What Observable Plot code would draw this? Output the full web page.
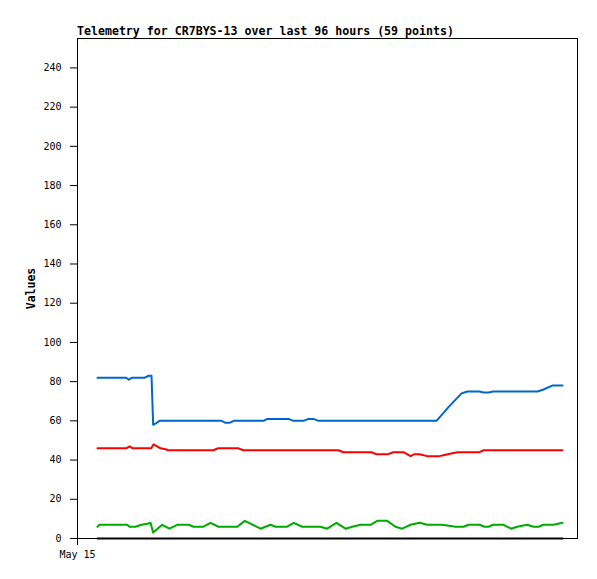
<!DOCTYPE html>
<html><head><meta charset="utf-8">
<script src="https://cdn.jsdelivr.net/npm/d3@7"></script>
<script src="https://cdn.jsdelivr.net/npm/@observablehq/plot@0.6"></script>
<style>
body{margin:0;background:#fff;}
#title{height:37px;position:relative;font:bold 11.6px "DejaVu Sans Mono",monospace;color:#000;}
#title span{position:absolute;left:77px;top:25px;line-height:12px;white-space:nowrap;}
#chart svg{display:block;}
</style></head><body>
<div id="title"><span>Telemetry for CR7BYS-13 over last 96 hours (59 points)</span></div>
<div id="chart"></div>
<script>
// hours after May 15 00:00 (UTC) and values
const blueHours = [3.84, 9.35, 9.85, 10.5, 12.92, 13.69, 14.21, 14.53, 15.2, 15.74, 27.65, 28.42, 29.18, 30.01, 35.71, 36.42, 40.51, 41.47, 43.39, 44.35, 45.31, 46.27, 68.93, 71.23, 73.73, 74.88, 77.18, 77.95, 78.91, 79.81, 88.32, 89.47, 91.14, 93.12];
const blueValues = [82, 82, 81, 82, 82, 83, 83, 58, 59, 60, 60, 59, 59, 60, 60, 61, 61, 60, 60, 61, 61, 60, 60, 67, 74, 75, 75, 74.5, 74.5, 75, 75, 76, 78, 78];

const redHours = [3.84, 9.35, 9.98, 10.62, 14.15, 14.59, 15.3, 15.94, 16.9, 17.41, 26.05, 27.01, 30.91, 31.81, 50.11, 51.01, 56.45, 57.35, 59.65, 60.61, 62.59, 63.94, 64.7, 65.66, 67.14, 69.5, 70.66, 72.0, 72.96, 77.18, 77.95, 93.12];
const redValues = [46, 46, 47, 46, 46, 48, 47, 46, 45.5, 45, 45, 46, 46, 45, 45, 44, 44, 43, 43, 44, 44, 42, 43, 43, 42, 42, 42.7, 43.5, 44, 44, 45, 45];

const greenHours = [3.84, 4.22, 9.54, 9.98, 11.14, 12.29, 13.44, 14.02, 14.53, 16.26, 17.66, 19.14, 21.37, 22.27, 24.19, 25.54, 27.07, 30.66, 32.12, 35.14, 37.06, 38.02, 40.26, 41.53, 43.14, 46.66, 47.94, 49.73, 51.46, 52.74, 54.34, 56.26, 57.54, 59.46, 61.06, 62.34, 63.94, 65.72, 67.14, 70.02, 72.58, 74.11, 75.07, 77.18, 78.14, 78.91, 79.81, 81.79, 83.27, 84.42, 86.34, 87.55, 88.51, 89.47, 91.39, 93.12];
const greenValues = [6, 7, 7, 6, 6, 7, 7.5, 8, 3, 7, 5, 7, 7, 6, 6, 8, 6, 6, 9, 5, 7, 6, 6, 8, 6, 6, 5, 8, 5, 6, 7, 7, 9, 9, 6, 5, 7, 8, 7, 7, 6, 6, 7, 7, 6, 6, 7, 7, 5, 6, 7, 6, 6, 7, 7, 8];

const blackHours = [3.84, 93.12];
const blackValues = [0, 0];

const seriesNames = ["Series A", "Series B", "Series C", "Series D"];
const seriesColors = ["#0066cc", "#ff0000", "#00aa00", "#000000"];
const yTicks = [0, 20, 40, 60, 80, 100, 120, 140, 160, 180, 200, 220, 240];
const yLabel = "Values";

const t0 = Date.UTC(2024, 4, 15);
const toDate = h => new Date(t0 + h * 3600e3);
function build(name, hours, values) {
  return hours.map((h, i) => ({series: name, time: toDate(h), value: values[i]}));
}
const data = [
  ...build(seriesNames[0], blueHours, blueValues),
  ...build(seriesNames[1], redHours, redValues),
  ...build(seriesNames[2], greenHours, greenValues),
  ...build(seriesNames[3], blackHours, blackValues)
];

const chart = Plot.plot({
  width: 597,
  height: 542,
  marginTop: 1,
  marginLeft: 77,
  marginRight: 20,
  marginBottom: 41,
  style: {fontFamily: "'DejaVu Sans Mono', monospace", fontSize: "10px", color: "#000", background: "#fff"},
  x: {type: "utc", domain: [toDate(0), toDate(96)]},
  y: {domain: [0, 255]},
  color: {type: "ordinal", domain: seriesNames, range: seriesColors},
  marks: [
    Plot.frame({stroke: "#000", strokeWidth: 1}),
    Plot.axisY({ticks: yTicks, tickSize: 7, tickPadding: 9, label: yLabel, labelAnchor: "center", labelArrow: "none", labelOffset: 51}),
    Plot.axisX({ticks: [toDate(0)], tickFormat: d3.utcFormat("%b %d"), tickSize: 7, tickPadding: 5, label: null}),
    Plot.line(data, {x: "time", y: "value", z: "series", stroke: "series", strokeWidth: 2, curve: "linear"})
  ]
});
document.getElementById("chart").appendChild(chart);
// make axis label bold
chart.querySelectorAll('[aria-label="y-axis label"] text').forEach(t => { t.setAttribute("font-weight", "bold"); t.setAttribute("font-size", "11.5px"); });
</script>
</body></html>
